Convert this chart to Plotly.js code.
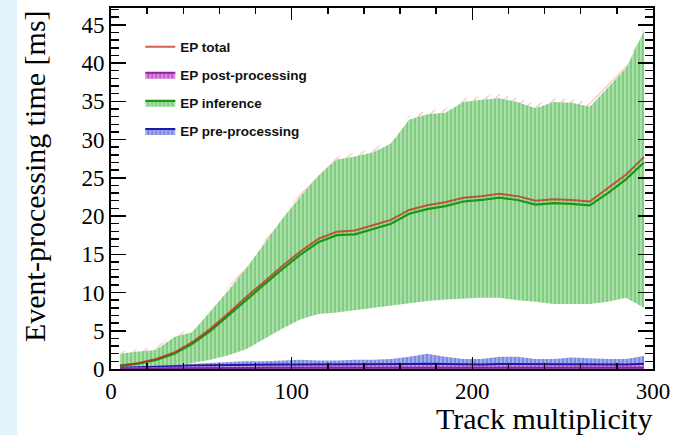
<!DOCTYPE html>
<html>
<head>
<meta charset="utf-8">
<script src="https://cdn.plot.ly/plotly-3.0.1.min.js"></script>
<style>
  html, body { margin: 0; padding: 0; background: #e3f3fc; overflow: hidden; }
  #chart { position: absolute; left: 17px; top: 0; width: 659px; height: 435px; background: #ffffff; }
</style>
</head>
<body>
<div id="chart"></div>
<script>
// Track multiplicity bin centres
const trackMult = [5, 15, 25, 35, 45, 55, 65, 75, 85, 95, 105, 115, 125, 135, 145, 155, 165, 175, 185, 195, 205, 215, 225, 235, 245, 255, 265, 275, 285, 295];

// EP inference (mean, band low, band high) [ms]
const infMean = [0.4, 0.7, 1.2, 2.0, 3.3, 5.0, 7.0, 9.1, 11.1, 13.1, 15.0, 16.6, 17.5, 17.6, 18.3, 19.0, 20.3, 20.9, 21.3, 21.9, 22.1, 22.4, 22.1, 21.5, 21.7, 21.6, 21.4, 23.0, 24.8, 27.0];
const infLow  = [0.0, 0.0, 0.0, 0.2, 0.8, 1.2, 1.8, 2.6, 4.0, 5.3, 6.5, 7.2, 7.4, 7.7, 8.0, 8.3, 8.6, 8.9, 9.1, 9.2, 9.3, 9.3, 9.0, 8.8, 8.5, 8.5, 8.5, 8.8, 9.3, 8.0];
const infHigh = [2.0, 2.3, 2.5, 4.2, 4.8, 7.5, 10.3, 13.2, 16.4, 19.7, 22.6, 25.3, 27.4, 27.8, 28.3, 29.5, 32.6, 33.3, 33.5, 34.9, 35.2, 35.4, 34.9, 34.1, 34.9, 34.8, 34.3, 36.8, 39.3, 44.2];

// EP total (mean, band low, band high) [ms]
const totMean = [0.45, 0.75, 1.3, 2.15, 3.5, 5.25, 7.3, 9.45, 11.45, 13.5, 15.4, 17.05, 17.95, 18.1, 18.8, 19.5, 20.8, 21.4, 21.8, 22.4, 22.6, 22.9, 22.6, 22.0, 22.2, 22.1, 21.9, 23.6, 25.4, 27.7];
const totLow  = [0.0, 0.0, 0.1, 0.4, 1.1, 1.5, 2.2, 3.0, 4.4, 5.7, 6.9, 7.6, 7.8, 8.1, 8.4, 8.7, 9.0, 9.3, 9.5, 9.6, 9.7, 9.7, 9.4, 9.2, 8.9, 8.9, 8.9, 9.2, 9.7, 8.4];
const totHigh = [2.3, 2.6, 2.9, 4.6, 5.2, 7.9, 10.7, 13.6, 16.8, 20.1, 23.0, 25.7, 27.8, 28.3, 28.8, 30.0, 33.1, 33.8, 34.0, 35.4, 35.7, 35.9, 35.4, 34.6, 35.4, 35.3, 34.8, 37.3, 39.8, 44.6];

// EP pre-processing (mean, band low, band high) [ms]
const preMean = [0.15, 0.2, 0.25, 0.35, 0.45, 0.5, 0.5, 0.55, 0.55, 0.6, 0.6, 0.6, 0.6, 0.6, 0.6, 0.6, 0.65, 0.7, 0.65, 0.6, 0.6, 0.65, 0.65, 0.6, 0.6, 0.65, 0.6, 0.6, 0.6, 0.7];
const preLow  = [0.05, 0.1, 0.1, 0.15, 0.25, 0.3, 0.3, 0.3, 0.3, 0.3, 0.3, 0.3, 0.3, 0.3, 0.3, 0.3, 0.3, 0.3, 0.3, 0.3, 0.3, 0.3, 0.3, 0.3, 0.3, 0.3, 0.3, 0.3, 0.3, 0.3];
const preHigh = [0.25, 0.3, 0.4, 0.55, 0.7, 0.8, 0.9, 1.0, 1.0, 1.1, 1.2, 1.1, 1.1, 1.2, 1.2, 1.3, 1.6, 2.0, 1.6, 1.3, 1.3, 1.6, 1.6, 1.3, 1.3, 1.5, 1.4, 1.3, 1.3, 1.7];

// EP post-processing (mean, band low, band high) [ms]
const postMean = [0.08, 0.1, 0.1, 0.12, 0.12, 0.14, 0.14, 0.15, 0.15, 0.15, 0.15, 0.15, 0.15, 0.15, 0.15, 0.15, 0.15, 0.15, 0.15, 0.15, 0.15, 0.15, 0.15, 0.15, 0.15, 0.15, 0.15, 0.15, 0.15, 0.15];
const postLow  = [0.0, 0.0, 0.0, 0.0, 0.0, 0.0, 0.0, 0.0, 0.0, 0.0, 0.0, 0.0, 0.0, 0.0, 0.0, 0.0, 0.0, 0.0, 0.0, 0.0, 0.0, 0.0, 0.0, 0.0, 0.0, 0.0, 0.0, 0.0, 0.0, 0.0];
const postHigh = [0.2, 0.25, 0.28, 0.3, 0.32, 0.34, 0.35, 0.35, 0.35, 0.35, 0.35, 0.35, 0.35, 0.35, 0.35, 0.35, 0.35, 0.38, 0.35, 0.35, 0.35, 0.35, 0.35, 0.35, 0.35, 0.38, 0.35, 0.35, 0.35, 0.38];

const seriesNames = ['EP total', 'EP post-processing', 'EP inference', 'EP pre-processing'];
const xTickVals = [0, 100, 200, 300];
const yTickVals = [0, 5, 10, 15, 20, 25, 30, 35, 40, 45];

function band(name, lo, mid, hi, lineColor, lineWidth, pattern, rank, showMidLine) {
  const grp = 'g_' + name;
  return [
    { x: trackMult, y: lo, type: 'scatter', mode: 'lines', line: { width: 0, color: 'rgba(0,0,0,0)' },
      showlegend: false, legendgroup: grp, hoverinfo: 'skip' },
    { x: trackMult, y: mid, type: 'scatter', mode: 'lines', name: name,
      line: { width: showMidLine ? lineWidth : 0, color: lineColor },
      fill: 'tonexty', fillcolor: pattern.bgcolor, fillpattern: pattern,
      showlegend: showMidLine, legendgroup: grp, legendrank: rank },
    { x: trackMult, y: hi, type: 'scatter', mode: 'lines', line: { width: 0, color: 'rgba(0,0,0,0)' },
      fill: 'tonexty', fillcolor: pattern.bgcolor, fillpattern: pattern,
      showlegend: false, legendgroup: grp, hoverinfo: 'skip' }
  ];
}

const redPattern = { shape: '/', bgcolor: 'rgba(255,255,255,0)', fgcolor: 'rgba(235,110,110,0.55)', size: 7, solidity: 0.15 };
const greenPattern = { shape: '|', bgcolor: '#80cd80', fgcolor: '#c8eac8', size: 4, solidity: 0.3 };
const bluePattern = { shape: '|', bgcolor: '#7c88e2', fgcolor: '#bcc3f2', size: 4, solidity: 0.3 };
const purplePattern = { shape: '|', bgcolor: '#c35ac6', fgcolor: '#eab0ea', size: 4, solidity: 0.3 };

const traces = [].concat(
  band(seriesNames[0] + ' band', totLow, totMean, totHigh, 'rgba(0,0,0,0)', 0, redPattern, 1, false),
  band(seriesNames[2], infLow, infMean, infHigh, '#169a16', 2.2, greenPattern, 3, true),
  band(seriesNames[3], preLow, preMean, preHigh, '#1a1aa8', 2, bluePattern, 4, true),
  band(seriesNames[1], postLow, postMean, postHigh, '#8a1fa8', 2, purplePattern, 2, true),
  [{ x: trackMult, y: totMean, type: 'scatter', mode: 'lines', name: seriesNames[0],
     line: { width: 2, color: 'rgba(200,35,20,0.72)' }, legendgroup: 'g_total', legendrank: 1,
     fill: 'none' }]
);

const tickFont = { family: 'Liberation Serif, Times New Roman, serif', size: 23, color: '#000' };
const titleFont = { family: 'Liberation Serif, Times New Roman, serif', size: 30, color: '#000' };

const layout = {
  width: 659, height: 435,
  margin: { l: 94, r: 23, t: 8, b: 66 },
  paper_bgcolor: '#ffffff', plot_bgcolor: '#ffffff',
  showlegend: true,
  legend: {
    x: 0.054, y: 0.935, xanchor: 'left', yanchor: 'top',
    bgcolor: 'rgba(0,0,0,0)', borderwidth: 0,
    font: { family: 'Liberation Sans, Arial, sans-serif', size: 13.5, color: '#111', weight: 'bold' },
    tracegroupgap: 7.5, traceorder: 'grouped'
  },
  xaxis: {
    range: [0, 300], tickvals: xTickVals, ticktext: xTickVals.map(String),
    ticks: 'inside', ticklen: 12, tickwidth: 1.5, tickcolor: '#000',
    minor: { dtick: 20, tick0: 0, ticks: 'inside', ticklen: 6, tickwidth: 1.5, tickcolor: '#000', showgrid: false },
    showline: true, linecolor: '#000', linewidth: 2, mirror: 'allticks',
    showgrid: false, zeroline: false, tickfont: tickFont
  },
  yaxis: {
    range: [0, 47.2], tickvals: yTickVals, ticktext: yTickVals.map(String),
    ticks: 'inside', ticklen: 15, tickwidth: 1.5, tickcolor: '#000',
    minor: { dtick: 1, tick0: 0, ticks: 'inside', ticklen: 8, tickwidth: 1.5, tickcolor: '#000', showgrid: false },
    showline: true, linecolor: '#000', linewidth: 2, mirror: 'allticks',
    showgrid: false, zeroline: false, tickfont: tickFont
  },
  annotations: [
    { text: 'Event-processing time [ms]', xref: 'paper', yref: 'paper', x: -0.142, y: 1.0,
      xanchor: 'center', yanchor: 'top', textangle: -90, showarrow: false, font: titleFont },
    { text: 'Track multiplicity', xref: 'paper', yref: 'paper', x: 1.0, y: -0.138,
      xanchor: 'right', yanchor: 'middle', showarrow: false, borderpad: 0, font: titleFont }
  ]
};

Plotly.newPlot('chart', traces, layout, { displayModeBar: false, staticPlot: true });
</script>
</body>
</html>
